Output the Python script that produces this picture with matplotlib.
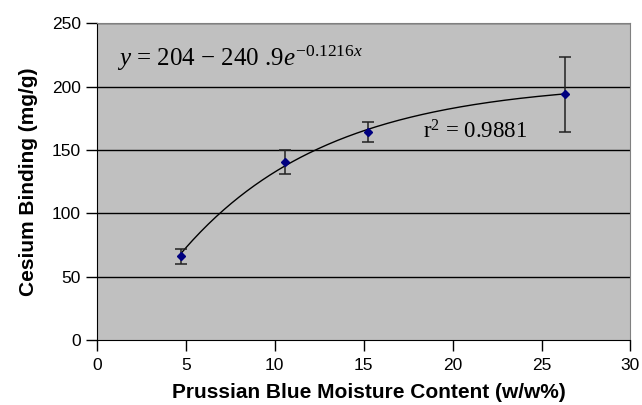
import numpy as np
import matplotlib.pyplot as plt

# moisture content (w/w%) vs cesium binding (mg/g)
moisture = [4.75, 10.55, 15.25, 26.3]
binding = [66, 140.5, 164, 194]
err = [6, 9.7, 8, 29.5]

# fitted exponential model
a, b, k = 204, 240.9, 0.1216

plt.rcParams['mathtext.fontset'] = 'custom'
plt.rcParams['mathtext.rm'] = 'Liberation Serif'
plt.rcParams['mathtext.it'] = 'Liberation Serif:italic'

fig = plt.figure(figsize=(6.42, 4.05), dpi=100)
ax = fig.add_axes([0.151, 0.160, 0.831, 0.783])
ax.set_facecolor('#c0c0c0')

xs = np.linspace(moisture[0], moisture[-1], 200)
ax.plot(xs, a - b * np.exp(-k * xs), color='black', lw=1.0, zorder=3)
ax.errorbar(moisture, binding, yerr=err, fmt='D', color='#000080', ms=4,
            ecolor='#222222', elinewidth=1.1, capsize=4, capthick=1.1, zorder=4)

ax.set_xlim(0, 30)
ax.set_ylim(0, 250)
ax.set_xticks(range(0, 31, 5))
ax.set_yticks(range(0, 251, 50))
for yv in range(50, 251, 50):
    ax.axhline(yv, color='black', lw=1.0, zorder=1)

for s in ['top', 'right']:
    ax.spines[s].set_color('#808080')
ax.spines['left'].set_color('black')
ax.spines['bottom'].set_color('black')

ax.tick_params(axis='both', direction='out', length=8, width=1, labelsize=12.5,
               colors='black')
ax.tick_params(axis='x', pad=5)
for lab in ax.get_xticklabels() + ax.get_yticklabels():
    lab.set_family('Liberation Sans')

ax.set_xlabel('Prussian Blue Moisture Content (w/w%)', fontsize=15,
              fontweight='bold', family='Liberation Sans', labelpad=6)
ax.xaxis.set_label_coords(0.51, -0.135)
ax.set_ylabel('Cesium Binding (mg/g)', fontsize=15, fontweight='bold',
              family='Liberation Sans', labelpad=10)

ax.text(1.15, 216, r'$y$ = 204 $-$ 240 .9$e^{-0.1216x}$', fontsize=18,
        family='Liberation Serif', va='baseline')
ax.text(18.35, 159, r'r$^2$ = 0.9881', fontsize=16.5, family='Liberation Serif',
        va='baseline')

fig.savefig('out.png', dpi=100)
